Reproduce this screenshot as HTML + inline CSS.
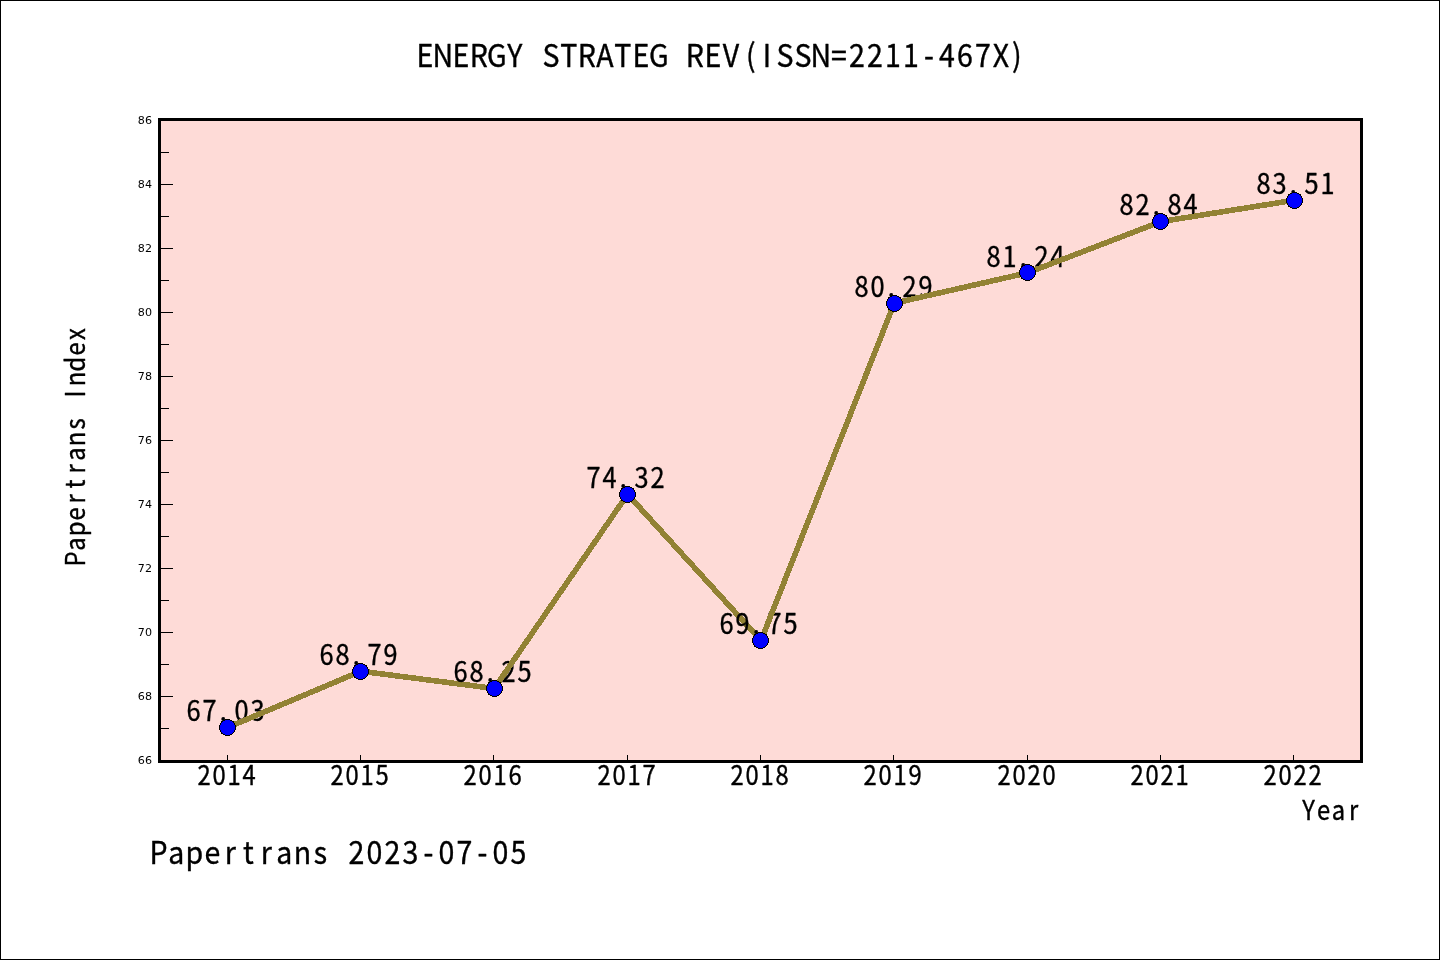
<!DOCTYPE html>
<html lang="en"><head><meta charset="utf-8"><title>ENERGY STRATEG REV(ISSN=2211-467X)</title>
<style>html,body{margin:0;padding:0;background:#fff;width:1440px;height:960px;overflow:hidden}svg{display:block}text{white-space:pre}</style>
</head><body>
<svg width="1440" height="960" viewBox="0 0 1440 960">
<rect x="0" y="0" width="1440" height="960" fill="#ffffff"/>
<rect x="0.5" y="0.5" width="1439" height="959" fill="none" stroke="#000" stroke-width="1"/>
<rect x="159.5" y="119.5" width="1202" height="642" fill="#fedbd7"/>
<g stroke="#000" stroke-width="1" shape-rendering="crispEdges">
<line x1="159.5" y1="760.5" x2="173" y2="760.5"/>
<line x1="159.5" y1="728.5" x2="169" y2="728.5"/>
<line x1="159.5" y1="696.5" x2="173" y2="696.5"/>
<line x1="159.5" y1="664.5" x2="169" y2="664.5"/>
<line x1="159.5" y1="632.5" x2="173" y2="632.5"/>
<line x1="159.5" y1="600.5" x2="169" y2="600.5"/>
<line x1="159.5" y1="568.5" x2="173" y2="568.5"/>
<line x1="159.5" y1="536.5" x2="169" y2="536.5"/>
<line x1="159.5" y1="504.5" x2="173" y2="504.5"/>
<line x1="159.5" y1="472.5" x2="169" y2="472.5"/>
<line x1="159.5" y1="440.5" x2="173" y2="440.5"/>
<line x1="159.5" y1="408.5" x2="169" y2="408.5"/>
<line x1="159.5" y1="376.5" x2="173" y2="376.5"/>
<line x1="159.5" y1="344.5" x2="169" y2="344.5"/>
<line x1="159.5" y1="312.5" x2="173" y2="312.5"/>
<line x1="159.5" y1="280.5" x2="169" y2="280.5"/>
<line x1="159.5" y1="248.5" x2="173" y2="248.5"/>
<line x1="159.5" y1="216.5" x2="169" y2="216.5"/>
<line x1="159.5" y1="184.5" x2="173" y2="184.5"/>
<line x1="159.5" y1="152.5" x2="169" y2="152.5"/>
<line x1="159.5" y1="120.5" x2="173" y2="120.5"/>
<line x1="227.5" y1="761" x2="227.5" y2="755"/>
<line x1="360.5" y1="761" x2="360.5" y2="755"/>
<line x1="493.5" y1="761" x2="493.5" y2="755"/>
<line x1="627.5" y1="761" x2="627.5" y2="755"/>
<line x1="760.5" y1="761" x2="760.5" y2="755"/>
<line x1="893.5" y1="761" x2="893.5" y2="755"/>
<line x1="1027.5" y1="761" x2="1027.5" y2="755"/>
<line x1="1160.5" y1="761" x2="1160.5" y2="755"/>
<line x1="1293.5" y1="761" x2="1293.5" y2="755"/>
</g>
<g font-family="'DejaVu Sans', 'Liberation Sans', sans-serif" font-size="11.11" fill="#000" text-anchor="end">
<text x="152" y="763.7">66</text>
<text x="152" y="699.7">68</text>
<text x="152" y="635.7">70</text>
<text x="152" y="571.7">72</text>
<text x="152" y="507.7">74</text>
<text x="152" y="443.7">76</text>
<text x="152" y="379.7">78</text>
<text x="152" y="315.7">80</text>
<text x="152" y="251.7">82</text>
<text x="152" y="187.7">84</text>
<text x="152" y="123.7">86</text>
</g>
<g font-family="'Noto Sans CJK SC', 'Liberation Sans', sans-serif" font-weight="400" fill="#000" text-anchor="middle" stroke="#000" stroke-width="0.4" stroke-linejoin="round">
<text transform="translate(185.50,721.34) scale(0.9,1)" font-size="28.16" x="8.89 26.67 41.96 62.22 80.00" y="0">67.03</text>
<line x1="227.5" y1="727.5" x2="360.9" y2="671.2" stroke="#928234" stroke-width="5.6" shape-rendering="crispEdges"/>
<text transform="translate(318.50,665.02) scale(0.9,1)" font-size="28.16" x="8.89 26.67 41.96 62.22 80.00" y="0">68.79</text>
<line x1="360.9" y1="671.2" x2="494.2" y2="688.5" stroke="#928234" stroke-width="5.6" shape-rendering="crispEdges"/>
<text transform="translate(452.50,682.30) scale(0.9,1)" font-size="28.16" x="8.89 26.67 41.96 62.22 80.00" y="0">68.25</text>
<line x1="494.2" y1="688.5" x2="627.6" y2="494.3" stroke="#928234" stroke-width="5.6" shape-rendering="crispEdges"/>
<text transform="translate(585.50,488.06) scale(0.9,1)" font-size="28.16" x="8.89 26.67 41.96 62.22 80.00" y="0">74.32</text>
<line x1="627.6" y1="494.3" x2="761.0" y2="640.5" stroke="#928234" stroke-width="5.6" shape-rendering="crispEdges"/>
<text transform="translate(718.50,634.30) scale(0.9,1)" font-size="28.16" x="8.89 26.67 41.96 62.22 80.00" y="0">69.75</text>
<line x1="761.0" y1="640.5" x2="894.3" y2="303.2" stroke="#928234" stroke-width="5.6" shape-rendering="crispEdges"/>
<text transform="translate(853.50,297.02) scale(0.9,1)" font-size="28.16" x="8.89 26.67 41.96 62.22 80.00" y="0">80.29</text>
<line x1="894.3" y1="303.2" x2="1027.7" y2="272.8" stroke="#928234" stroke-width="5.6" shape-rendering="crispEdges"/>
<text transform="translate(985.50,266.62) scale(0.9,1)" font-size="28.16" x="8.89 26.67 41.96 62.22 80.00" y="0">81.24</text>
<line x1="1027.7" y1="272.8" x2="1161.0" y2="221.6" stroke="#928234" stroke-width="5.6" shape-rendering="crispEdges"/>
<text transform="translate(1118.50,215.42) scale(0.9,1)" font-size="28.16" x="8.89 26.67 41.96 62.22 80.00" y="0">82.84</text>
<line x1="1161.0" y1="221.6" x2="1294.4" y2="200.2" stroke="#928234" stroke-width="5.6" shape-rendering="crispEdges"/>
<text transform="translate(1255.50,193.98) scale(0.9,1)" font-size="28.16" x="8.89 26.67 41.96 62.22 80.00" y="0">83.51</text>
</g>
<g fill="#0000ff" stroke="#000" stroke-width="1" shape-rendering="crispEdges">
<circle cx="227.5" cy="727.5" r="8"/>
<circle cx="360.5" cy="671.5" r="8"/>
<circle cx="494.5" cy="688.5" r="8"/>
<circle cx="627.5" cy="494.5" r="8"/>
<circle cx="760.5" cy="640.5" r="8"/>
<circle cx="894.5" cy="303.5" r="8"/>
<circle cx="1027.5" cy="272.5" r="8"/>
<circle cx="1160.5" cy="221.5" r="8"/>
<circle cx="1294.5" cy="200.5" r="8"/>
</g>
<rect x="159.5" y="119.5" width="1202" height="642" fill="none" stroke="#000" stroke-width="3"/>
<g font-family="'Noto Sans CJK SC', 'Liberation Sans', sans-serif" font-weight="400" fill="#000" text-anchor="middle" stroke="#000" stroke-width="0.4" stroke-linejoin="round">
<text transform="translate(196.60,785.00) scale(0.9,1)" font-size="26.4" x="8.33 25.00 41.67 58.33" y="0">2014</text>
<text transform="translate(329.60,785.00) scale(0.9,1)" font-size="26.4" x="8.33 25.00 41.67 58.33" y="0">2015</text>
<text transform="translate(462.60,785.00) scale(0.9,1)" font-size="26.4" x="8.33 25.00 41.67 58.33" y="0">2016</text>
<text transform="translate(596.60,785.00) scale(0.9,1)" font-size="26.4" x="8.33 25.00 41.67 58.33" y="0">2017</text>
<text transform="translate(729.60,785.00) scale(0.9,1)" font-size="26.4" x="8.33 25.00 41.67 58.33" y="0">2018</text>
<text transform="translate(862.60,785.00) scale(0.9,1)" font-size="26.4" x="8.33 25.00 41.67 58.33" y="0">2019</text>
<text transform="translate(996.60,785.00) scale(0.9,1)" font-size="26.4" x="8.33 25.00 41.67 58.33" y="0">2020</text>
<text transform="translate(1129.60,785.00) scale(0.9,1)" font-size="26.4" x="8.33 25.00 41.67 58.33" y="0">2021</text>
<text transform="translate(1262.60,785.00) scale(0.9,1)" font-size="26.4" x="8.33 25.00 41.67 58.33" y="0">2022</text>
<text transform="translate(1301.00,820.30) scale(0.9,1)" font-size="26.4" x="8.33 25.00 41.67 58.33" y="0">Year</text>
<text transform="translate(84.60,566.50) rotate(-90) scale(0.9,1)" font-size="26.4" x="8.33 25.00 41.67 58.33 75.00 91.67 108.33 125.00 141.67 158.33 175.00 191.67 208.33 225.00 241.67 258.33" y="0">Papertrans Index</text>
<text transform="translate(415.90,67.20) scale(0.9,1)" font-size="31.68" x="10.00 30.00 50.00 70.00 90.00 110.00 130.00 150.00 170.00 190.00 210.00 230.00 250.00 270.00 290.00 310.00 330.00 350.00 372.20 390.00 410.00 430.00 450.00 470.00 490.00 510.00 530.00 550.00 570.00 590.00 610.00 630.00 650.00 667.60" y="0">ENERGY STRATEG REV(ISSN=2211-467X)</text>
<text transform="translate(149.40,863.90) scale(0.9,1)" font-size="31.68" x="10.00 30.00 50.00 70.00 90.00 110.00 130.00 150.00 170.00 190.00 210.00 230.00 250.00 270.00 290.00 310.00 330.00 350.00 370.00 390.00 410.00" y="0">Papertrans 2023-07-05</text>
</g>
</svg>
</body></html>
